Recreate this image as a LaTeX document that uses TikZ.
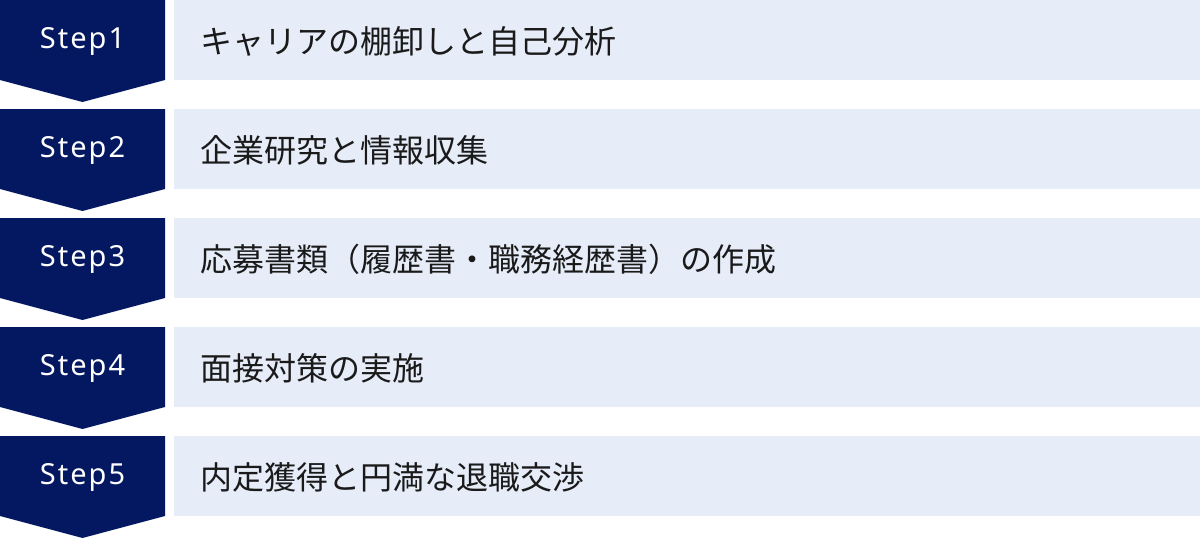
\documentclass[tikz,border=0pt]{standalone}
\usepackage{fontspec}
\setmainfont{Noto Sans}
\newfontfamily\jpfont{Noto Sans CJK JP}
\newfontfamily\stepfont[LetterSpace=7]{Noto Sans}
\definecolor{navy}{HTML}{041862}
\definecolor{pale}{HTML}{E6ECF8}
\definecolor{ink}{HTML}{1A1A1A}
\begin{document}
\begin{tikzpicture}[x=1pt,y=-1pt,
  stepshape/.style={fill=navy,draw=none},
  itembox/.style={fill=pale,draw=none},
  steplabel/.style={text=white,font=\stepfont\fontsize{29}{34}\selectfont,inner sep=0pt},
  itemlabel/.style={text=ink,font=\jpfont\fontsize{32}{38}\selectfont,anchor=west,inner sep=0pt}]
\useasboundingbox (0,0) rectangle (1200,538);
\foreach \i/\t in {0/キャリアの棚卸しと自己分析,1/企業研究と情報収集,2/応募書類（履歴書・職務経歴書）の作成,3/面接対策の実施,4/内定獲得と円満な退職交渉}{
  \pgfmathsetmacro{\yy}{109*\i}
  \path[stepshape] (0,\yy) -- (165,\yy) -- (165,\yy+80) -- (82.5,\yy+102) -- (0,\yy+80) -- cycle;
  \path[itembox] (174,\yy) rectangle (1200,\yy+80);
  \pgfmathtruncatemacro{\n}{\i+1}
  \node[steplabel] (s\n) at (82.5,\yy+41) {Step\n};
  \node[itemlabel] (t\n) at (200,\yy+41) {\t};
}
\end{tikzpicture}
\end{document}
